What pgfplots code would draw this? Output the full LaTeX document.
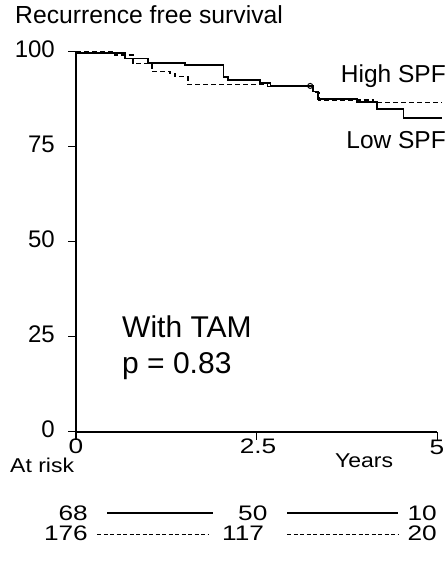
\documentclass[border=0pt]{standalone}
\usepackage{pgfplots}
\pgfplotsset{compat=1.18}
\usepackage{graphicx}
\usepackage{fontspec}
\setmainfont{Liberation Sans}
\newcommand{\W}[1]{\scalebox{1.15}[1]{#1}}
\newcommand{\D}[1]{\scalebox{1.25}[1]{#1}}
\begin{document}
\begin{tikzpicture}[x=1pt,y=1pt]
\useasboundingbox (0,0) rectangle (447,-568);
\begin{axis}[
  at={(76pt,-431.7pt)}, anchor=south west,
  scale only axis, width=361.4pt, height=380pt,
  xmin=0, xmax=5, ymin=0, ymax=100,
  axis lines=left, axis line style={-, line width=1.6pt},
  tick align=outside, major tick length=8pt,
  tick style={line width=1.4pt, black},
  xtick={0,2.5,5}, ytick={0,25,50,75,100},
  xticklabels={}, yticklabels={},
  clip=false,
]
\addplot[const plot, line width=1.7pt, black] coordinates {
 (0,99.6) (0.68,98.2) (1.0,97.0) (1.51,96.5) (2.04,93.4) (2.1,92.5)
 (2.55,91.7) (2.69,91.0) (3.28,89.5) (3.35,87.5) (3.89,86.8)
 (4.16,84.9) (4.53,82.5) (5.06,82.5)};
\addplot[const plot, line width=1.3pt, black, dash pattern=on 5pt off 3pt] coordinates {
 (0,100) (0.54,99.1) (0.79,96.9) (1.05,94.8) (1.30,94.3) (1.37,93.4)
 (1.55,91.4) (2.65,90.9) (3.29,89.3) (3.36,87.3) (4.12,86.6) (5.06,86.6)};
\addplot[only marks, mark=o, mark size=2.5pt, mark options={line width=1pt, fill=white}, black] coordinates {(3.24,91.0)};
\end{axis}
% title
\node[anchor=base west, inner sep=0, font=\fontsize{24.7}{28}\selectfont] at (15,-23.5) {Recurrence free survival};
% y tick labels
\begin{scope}[every node/.style={anchor=east, inner sep=0, font=\fontsize{24}{28}\selectfont}]
\node at (55,-49.2) {100};
\node at (55,-144.2) {75};
\node at (55,-239.2) {50};
\node at (55,-334.2) {25};
\node at (55,-429.2) {0};
\end{scope}
% x tick labels
\begin{scope}[every node/.style={anchor=center, inner sep=0, font=\fontsize{21}{25}\selectfont}]
\node at (76,-446.5) {\D{0}};
\node at (258,-446.5) {\D{2.5}};
\node at (437,-447) {\D{5}};
\end{scope}
\node[anchor=base, inner sep=0, font=\fontsize{20}{24}\selectfont] at (364,-467.5) {\W{Years}};
\node[anchor=base west, inner sep=0, font=\fontsize{20}{24}\selectfont] at (10,-472) {\W{At risk}};
% curve labels
\node[anchor=base east, inner sep=0, font=\fontsize{24.5}{28}\selectfont] at (446,-82.5) {High SPF};
\node[anchor=base east, inner sep=0, font=\fontsize{24.5}{28}\selectfont] at (446,-148.5) {Low SPF};
% annotation
\node[anchor=base west, inner sep=0, font=\fontsize{30}{34}\selectfont] at (122,-337) {With TAM};
\node[anchor=base west, inner sep=0, font=\fontsize{30}{34}\selectfont] at (122,-373) {p = 0.83};
% at risk table
\begin{scope}[every node/.style={inner sep=0, font=\fontsize{21}{25}\selectfont}]
\node[anchor=base east] at (88,-520) {\D{68}};
\draw[line width=1.2pt] (107,-513) -- (213,-513);
\node[anchor=base west] at (238,-520) {\D{50}};
\draw[line width=1.2pt] (287,-513) -- (398,-513);
\node[anchor=base east] at (437,-520) {\D{10}};
\node[anchor=base east] at (88,-540) {\D{176}};
\draw[line width=1.0pt, dash pattern=on 4pt off 2.5pt] (97,-534) -- (208,-534);
\node[anchor=base west] at (222,-540) {\D{117}};
\draw[line width=1.0pt, dash pattern=on 4pt off 2.5pt] (287,-534) -- (398,-534);
\node[anchor=base east] at (437,-540) {\D{20}};
\end{scope}
\end{tikzpicture}
\end{document}
